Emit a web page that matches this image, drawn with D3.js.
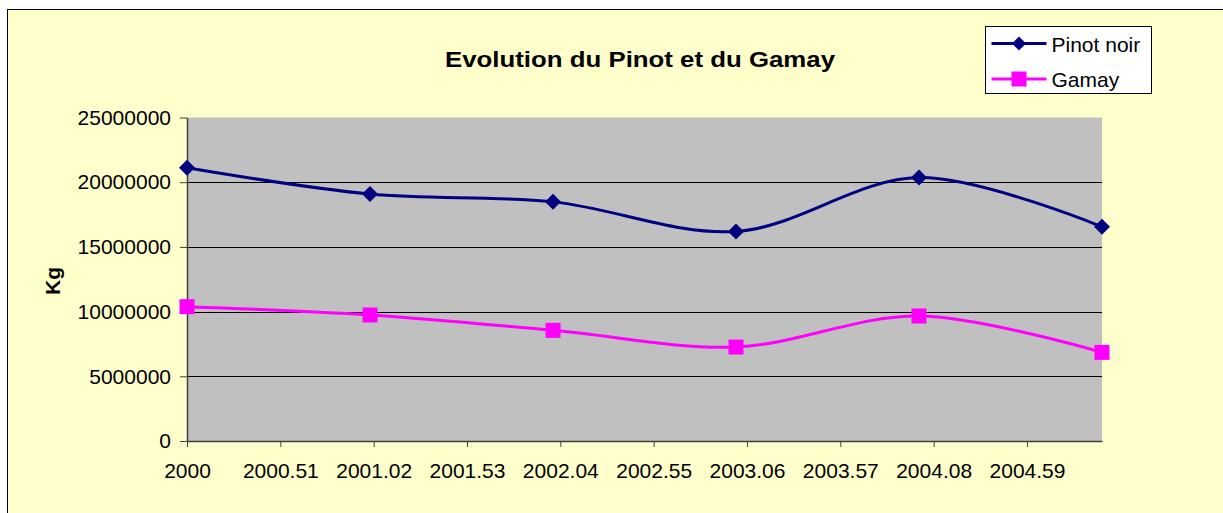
<!DOCTYPE html>
<html>
<head>
<meta charset="utf-8">
<script src="https://cdn.jsdelivr.net/npm/d3@7"></script>
<style>
  html, body { margin: 0; padding: 0; background: #fff; }
  svg { display: block; font-family: Arial, "Liberation Sans", sans-serif; }
</style>
</head>
<body>
<svg id="chart"></svg>
<script>
// data
const years = [2000, 2001, 2002, 2003, 2004, 2005];
const pinotNoir = [21120000, 19090000, 18480000, 16190000, 20360000, 16550000];
const gamay = [10380000, 9740000, 8550000, 7260000, 9660000, 6850000];
const xTicks = [2000, 2000.51, 2001.02, 2001.53, 2002.04, 2002.55, 2003.06, 2003.57, 2004.08, 2004.59];
const yTicks = [0, 5000000, 10000000, 15000000, 20000000, 25000000];
const seriesNames = ["Pinot noir", "Gamay"];

const width = 1223;
const height = 513;
const margin = { top: 117.5, right: 121, bottom: 72, left: 187 };

const svg = d3.select("#chart")
  .attr("width", width)
  .attr("height", height);

// chart area background + border (runs off the right/bottom edge)
svg.append("rect")
  .attr("x", 7.5)
  .attr("y", 9.5)
  .attr("width", width)
  .attr("height", height)
  .attr("fill", "#FFFFCC")
  .attr("stroke", "#000")
  .attr("stroke-width", 1);

const x = d3.scaleLinear()
  .domain([2000, 2005])
  .range([margin.left, width - margin.right]);

const y = d3.scaleLinear()
  .domain([0, 25000000])
  .range([height - margin.bottom, margin.top]);

// plot area
svg.append("rect")
  .attr("x", x(2000))
  .attr("y", y(25000000))
  .attr("width", x(2005) - x(2000))
  .attr("height", y(0) - y(25000000))
  .attr("fill", "#C0C0C0");

// gridlines
svg.append("g")
  .selectAll("line")
  .data(yTicks.filter((d) => d > 0 && d < 25000000))
  .join("line")
  .attr("x1", x(2000))
  .attr("x2", x(2005))
  .attr("y1", (d) => Math.round(y(d)) + 0.5)
  .attr("y2", (d) => Math.round(y(d)) + 0.5)
  .attr("stroke", "#000")
  .attr("stroke-width", 1);

// y axis
svg.append("g")
  .attr("transform", `translate(${x(2000)},0)`)
  .call(d3.axisLeft(y).tickValues(yTicks).tickFormat(d3.format("d")).tickSize(7).tickSizeOuter(0).tickPadding(9))
  .call((g) => g.select(".domain").attr("stroke", "#404040").attr("stroke-width", 1.5))
  .call((g) => g.selectAll(".tick line").attr("stroke", "#404040"))
  .call((g) => g.selectAll("text").attr("font-size", 21).attr("fill", "#000").attr("font-family", "Arial, 'Liberation Sans', sans-serif"));

// x axis
svg.append("g")
  .attr("transform", `translate(0,${y(0)})`)
  .call(d3.axisBottom(x).tickValues(xTicks).tickFormat((d) => String(d)).tickSize(6).tickSizeOuter(0).tickPadding(16))
  .call((g) => g.select(".domain").attr("stroke", "#404040").attr("stroke-width", 1.5))
  .call((g) => g.selectAll(".tick line").attr("stroke", "#404040"))
  .call((g) => g.selectAll("text").attr("font-size", 21).attr("fill", "#000").attr("font-family", "Arial, 'Liberation Sans', sans-serif"));

// axis title
svg.append("text")
  .attr("transform", `translate(60,${281}) rotate(-90)`)
  .attr("text-anchor", "middle")
  .attr("font-size", 21)
  .attr("font-weight", "bold")
  .text("Kg");

// chart title
svg.append("text")
  .attr("x", 640)
  .attr("y", 67)
  .attr("text-anchor", "middle")
  .attr("font-size", 22)
  .attr("font-weight", "bold")
  .attr("textLength", 390)
  .attr("lengthAdjust", "spacingAndGlyphs")
  .text("Evolution du Pinot et du Gamay");

// lines
const line = d3.line()
  .x((d, i) => x(years[i]))
  .y((d) => y(d))
  .curve(d3.curveCatmullRom.alpha(0.5));

svg.append("path")
  .attr("d", line(pinotNoir))
  .attr("fill", "none")
  .attr("stroke", "#000080")
  .attr("stroke-width", 3);

svg.append("path")
  .attr("d", line(gamay))
  .attr("fill", "none")
  .attr("stroke", "#FF00FF")
  .attr("stroke-width", 3);

const diamond = (s) => `M0,${-s}L${s},0L0,${s}L${-s},0Z`;

svg.append("g")
  .selectAll("path")
  .data(pinotNoir)
  .join("path")
  .attr("transform", (d, i) => `translate(${x(years[i])},${y(d)})`)
  .attr("d", diamond(8))
  .attr("fill", "#000080");

svg.append("g")
  .selectAll("rect")
  .data(gamay)
  .join("rect")
  .attr("x", (d, i) => x(years[i]) - 7.5)
  .attr("y", (d) => y(d) - 7.5)
  .attr("width", 15)
  .attr("height", 15)
  .attr("fill", "#FF00FF");

// legend
const legend = svg.append("g").attr("transform", "translate(985.5,26.5)");
legend.append("rect")
  .attr("width", 166)
  .attr("height", 67)
  .attr("fill", "#fff")
  .attr("stroke", "#000");

const rows = legend.selectAll("g")
  .data(seriesNames)
  .join("g")
  .attr("transform", (d, i) => `translate(0,${i === 0 ? 17 : 52.5})`);

rows.append("line")
  .attr("x1", 6)
  .attr("x2", 61)
  .attr("stroke", (d, i) => (i === 0 ? "#000080" : "#FF00FF"))
  .attr("stroke-width", 3);

rows.filter((d, i) => i === 0)
  .append("path")
  .attr("transform", "translate(33.5,0)")
  .attr("d", diamond(7))
  .attr("fill", "#000080");

rows.filter((d, i) => i === 1)
  .append("rect")
  .attr("x", 26)
  .attr("y", -7.5)
  .attr("width", 15)
  .attr("height", 15)
  .attr("fill", "#FF00FF");

rows.append("text")
  .attr("x", 66)
  .attr("y", 8)
  .attr("font-size", 21)
  .text((d) => d);
</script>
</body>
</html>
